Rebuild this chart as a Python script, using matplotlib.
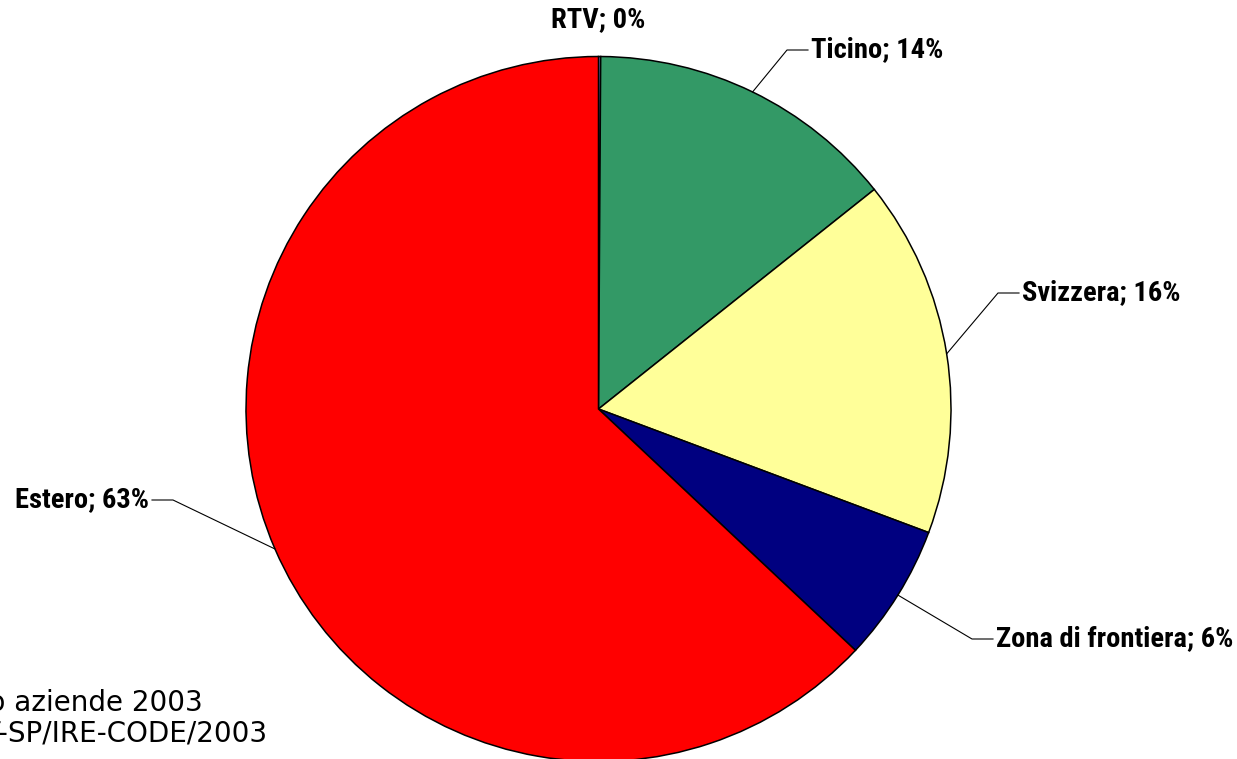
import matplotlib
matplotlib.use("Agg")
import matplotlib.pyplot as plt
import numpy as np

# ---- data ----
categories = ["RTV", "Ticino", "Svizzera", "Zona di frontiera", "Estero"]
values = [0.1, 14.2, 16.4, 6.3, 63.0]
colors = ["#9999FF", "#339966", "#FFFF99", "#000080", "#FF0000"]
source_lines = ["Fonte: Censimento aziende 2003", "USTAT-SP/IRE-CODE/2003"]

W, H = 1237, 759
fig = plt.figure(figsize=(W / 100, H / 100), dpi=100)
ax = fig.add_axes([0, 0, 1, 1])

def Y(y):
    return H - y

cx, cy, R = 598.5, Y(409), 352.5
wedges, _ = ax.pie(values, colors=colors, startangle=90, counterclock=False,
                   center=(cx, cy), radius=R,
                   wedgeprops=dict(edgecolor="black", linewidth=1.1))
ax.set_xlim(0, W)
ax.set_ylim(0, H)
ax.set_aspect("equal", adjustable="box")
ax.axis("off")

label_font = dict(family=["Roboto Condensed", "DejaVu Sans"],
                  fontweight="bold", fontsize=20.5)

layout = {
    "Ticino": (787, 50, 808, 811, "left"),
    "Svizzera": (998, 293, 1019, 1022, "left"),
    "Zona di frontiera": (972, 639, 993, 996, "left"),
    "Estero": (173, 500, 152, 149, "right"),
}

for w, cat, v in zip(wedges, categories, values):
    text = f"{cat}; {int(round(v))}%"
    if cat not in layout:
        ax.text(cx, Y(20), text, ha="center", va="center", **label_font)
        continue
    ang = np.deg2rad((w.theta1 + w.theta2) / 2)
    sx, sy = cx + R * np.cos(ang), cy + R * np.sin(ang)
    ex, ey, hx, tx, ha = layout[cat]
    ax.plot([sx, ex, hx], [sy, Y(ey), Y(ey)], color="black", lw=0.8)
    ax.text(tx, Y(ey), text, ha=ha, va="center", **label_font)

src_font = dict(family="DejaVu Sans", fontsize=20)
ax.text(203, Y(703), source_lines[0], ha="right", va="center", **src_font)
ax.text(268, Y(734), source_lines[1], ha="right", va="center", **src_font)

fig.savefig("out.png", dpi=100, facecolor="white")
